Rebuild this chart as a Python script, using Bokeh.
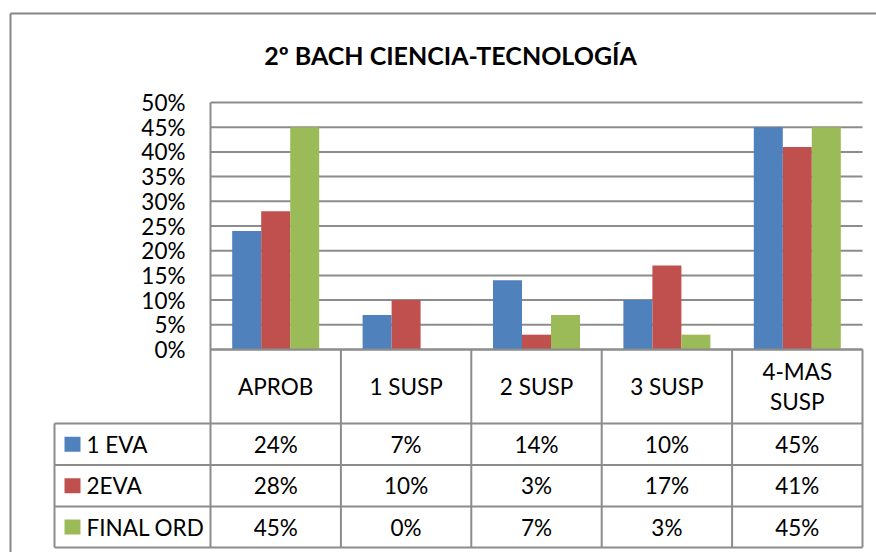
from bokeh.plotting import figure
from bokeh.models import Range1d
from bokeh.core.properties import value
from bokeh.embed import file_html
from bokeh.resources import INLINE

# ---------------- data ----------------
title = "2º BACH CIENCIA-TECNOLOGÍA"
categories = ["APROB", "1 SUSP", "2 SUSP", "3 SUSP", "4-MAS SUSP"]
series_names = ["1 EVA", " 2EVA", "FINAL ORD"]
eva1 = [24, 7, 14, 10, 45]
eva2 = [28, 10, 3, 17, 41]
final_ord = [45, 0, 7, 3, 45]
y_ticks = [0, 5, 10, 15, 20, 25, 30, 35, 40, 45, 50]
y_tick_labels = ["0%", "5%", "10%", "15%", "20%", "25%", "30%", "35%", "40%", "45%", "50%"]
colors = ["#4F81BD", "#C0504D", "#9BBB59"]

series = [eva1, eva2, final_ord]

# ---------------- layout (page pixels) ----------------
OFF = 0
W, H = 876, 552
X0, CW = 210.0, 130.4          # left of plot area, px per category
Y0, YS = 349.0, 494.0          # baseline px, px per unit (100%)
FONT = "Lato"
FS = "22.5px"
GRID_C = "#8c8c8c"


def fx(X):
    return (X - X0) / CW


def fy(Y):
    return (Y0 - Y) / YS


p = figure(width=W, height=H, output_backend="svg", toolbar_location=None,
           x_range=Range1d(fx(OFF), fx(OFF + W)), y_range=Range1d(fy(OFF + H), fy(OFF)),
           min_border=0, outline_line_color=None)
p.axis.visible = False
p.grid.visible = False
p.background_fill_color = "white"
p.border_fill_color = "white"

n = len(categories)
ymax = y_ticks[-1] / 100

# outer chart border (left and top visible)
p.segment(x0=[fx(10), fx(10)], y0=[fy(13), fy(13)], x1=[fx(900), fx(10)], y1=[fy(13), fy(600)],
          line_color="#868686", line_width=2)

# gridlines
p.segment(x0=[0] * len(y_ticks), x1=[n] * len(y_ticks), y0=[t / 100 for t in y_ticks],
          y1=[t / 100 for t in y_ticks], line_color=GRID_C, line_width=2)

# bars
bw = 0.2224
for k, (vals, col) in enumerate(zip(series, colors)):
    xs = [i + 0.5 + (k - 1) * bw for i in range(n)]
    p.vbar(x=xs, top=[v / 100 for v in vals], bottom=0, width=bw, fill_color=col,
           line_color=None)

# y tick labels
p.text(x=[fx(185)] * len(y_ticks), y=[t / 100 for t in y_ticks], text=y_tick_labels,
       text_align="right", text_baseline="middle", text_font=value(FONT),
       text_font_size=FS, text_color="black")

# title
p.text(x=[fx(450)], y=[fy(54)], text=[title], text_align="center", text_baseline="middle",
       text_font=value(FONT), text_font_size="25px", text_font_style="bold", text_color="black")

# ---------------- data table ----------------
row_edges = [fy(Y) for Y in [349, 423, 464.5, 506, 547]]
leg_left = fx(54)

# horizontal lines
hx0 = [0] + [leg_left] * 4
p.segment(x0=hx0, x1=[n] * 5, y0=row_edges, y1=row_edges, line_color=GRID_C, line_width=2)
# vertical lines
vx = [0] + [i + 1 for i in range(n)] + [leg_left]
vy0 = [ymax] + [row_edges[0]] * n + [row_edges[1]]
vy1 = [row_edges[-1]] * (n + 2)
p.segment(x0=vx, x1=vx, y0=vy0, y1=vy1, line_color=GRID_C, line_width=2)

# header texts (wrap long labels)
hx, hy, ht = [], [], []
hc = (row_edges[0] + row_edges[1]) / 2
for i, c in enumerate(categories):
    lines = c.split(" ", 1) if len(c) > 7 else [c]
    sp = 30 / YS
    for j, ln in enumerate(lines):
        hx.append(i + 0.5)
        hy.append(hc + ((len(lines) - 1) / 2 - j) * sp)
        ht.append(ln)
p.text(x=hx, y=hy, text=ht, text_align="center", text_baseline="middle",
       text_font=value(FONT), text_font_size=FS, text_color="black")

# value cells + legend
for k, (vals, col, name) in enumerate(zip(series, colors, series_names)):
    yc = (row_edges[k + 1] + row_edges[k + 2]) / 2
    p.text(x=[i + 0.5 for i in range(n)], y=[yc] * n, text=[f"{v}%" for v in vals],
           text_align="center", text_baseline="middle", text_font=value(FONT),
           text_font_size=FS, text_color="black")
    p.rect(x=[fx(72)], y=[yc], width=16, height=15, width_units="screen",
           height_units="screen", fill_color=col, line_color=None)
    p.text(x=[fx(86)], y=[yc], text=[name], text_align="left", text_baseline="middle",
           text_font=value(FONT), text_font_size=FS, text_color="black")

open("out.html", "w").write(file_html(p, INLINE))
